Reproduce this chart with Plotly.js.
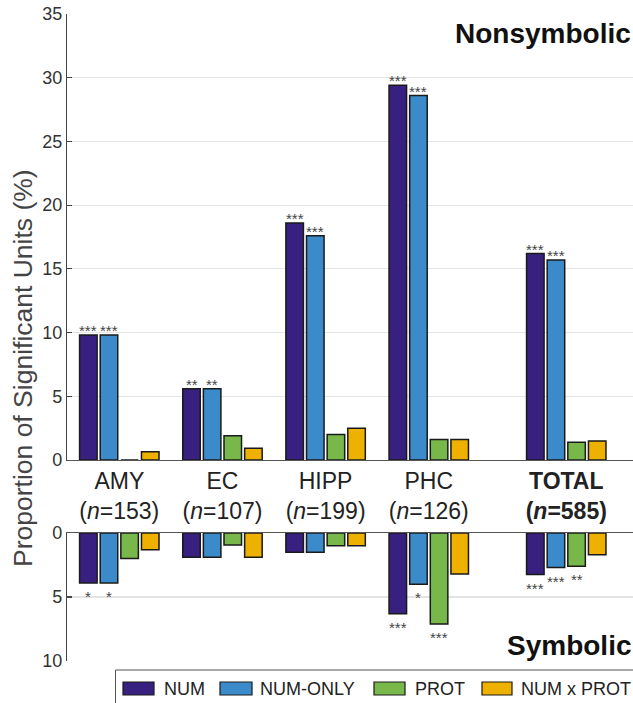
<!DOCTYPE html>
<html>
<head>
<meta charset="utf-8">
<script src="https://cdn.plot.ly/plotly-3.0.1.min.js"></script>
<style>
html,body{margin:0;padding:0;overflow:hidden;background:#fff;}
#chart{width:633px;height:703px;}
</style>
</head>
<body>
<div id="chart"></div>
<script>
// ---------------- DATA ----------------
const categories = ['AMY', 'EC', 'HIPP', 'PHC', 'TOTAL'];
const nUnits = [153, 107, 199, 126, 585];
const seriesNames = ['NUM', 'NUM-ONLY', 'PROT', 'NUM x PROT'];

// Nonsymbolic (%)
const nonsymNUM     = [9.8, 5.6, 18.6, 29.4, 16.2];
const nonsymNUMONLY = [9.8, 5.6, 17.6, 28.6, 15.7];
const nonsymPROT    = [0.0, 1.9, 2.0, 1.6, 1.4];
const nonsymNUMxPROT= [0.65, 0.93, 2.5, 1.6, 1.5];

// Symbolic (%)
const symNUM     = [3.9, 1.9, 1.5, 6.3, 3.25];
const symNUMONLY = [3.9, 1.9, 1.5, 4.0, 2.7];
const symPROT    = [2.0, 0.93, 1.0, 7.1, 2.6];
const symNUMxPROT= [1.3, 1.9, 1.0, 3.2, 1.7];

// Significance markers
const nonsymSigNUM      = ['***', '**', '***', '***', '***'];
const nonsymSigNUMONLY  = ['***', '**', '***', '***', '***'];
const nonsymSigPROT     = ['', '', '', '', ''];
const nonsymSigNUMxPROT = ['', '', '', '', ''];
const symSigNUM      = ['*', '', '', '***', '***'];
const symSigNUMONLY  = ['*', '', '', '*', '***'];
const symSigPROT     = ['', '', '', '***', '**'];
const symSigNUMxPROT = ['', '', '', '', ''];

// ---------------- LAYOUT / STYLE ----------------
const W = 633, H = 703, ML = 67;
const groupX = [1, 2, 3, 4, 5.333];
const colors = ['#37207f', '#3b8bca', '#78b84a', '#efb100'];
const FONT = 'Liberation Sans, Arial, sans-serif';
const BARGAP = 0.2;

const px2x = px => (px - ML) / (W - ML);
const px2y = py => 1 - py / H;

const tickText = categories.map((c, i) => c === 'TOTAL'
  ? `<b>${c}</b><br><b>(<i>n</i>=${nUnits[i]})</b>`
  : `${c}<br>(<i>n</i>=${nUnits[i]})`);

const nonsym = [nonsymNUM, nonsymNUMONLY, nonsymPROT, nonsymNUMxPROT];
const nonsymSig = [nonsymSigNUM, nonsymSigNUMONLY, nonsymSigPROT, nonsymSigNUMxPROT];
const sym = [symNUM, symNUMONLY, symPROT, symNUMxPROT];
const symSig = [symSigNUM, symSigNUMONLY, symSigPROT, symSigNUMxPROT];

const traces = [];
const barCommon = {type: 'bar', showlegend: false, hoverinfo: 'skip'};
seriesNames.forEach((name, k) => {
  traces.push(Object.assign({}, barCommon, {
    name: name, x: groupX, y: nonsym[k], xaxis: 'x', yaxis: 'y',
    marker: {color: colors[k], line: {color: '#1a1a1a', width: 1.5}}
  }));
});
seriesNames.forEach((name, k) => {
  traces.push(Object.assign({}, barCommon, {
    name: name, x: groupX, y: sym[k], xaxis: 'x2', yaxis: 'y2',
    marker: {color: colors[k], line: {color: '#1a1a1a', width: 1.5}}
  }));
});

const xRange = [0.493, 5.98];
const yCommon = {
  showgrid: true, gridcolor: '#e4e4e4', gridwidth: 1.2,
  showline: true, linecolor: '#444', linewidth: 1.2,
  ticks: 'inside', ticklen: 5, tickcolor: '#444', tickwidth: 1.2,
  tickfont: {family: FONT, size: 18, color: '#333'},
  zeroline: false, dtick: 5, fixedrange: true
};

const annotations = [];
// Significance stars, anchored to bar ends in data coordinates
const slot = (1 - BARGAP) / seriesNames.length;
seriesNames.forEach((name, k) => {
  const off = (k - (seriesNames.length - 1) / 2) * slot;
  groupX.forEach((gx, i) => {
    if (nonsymSig[k][i]) annotations.push({
      xref: 'x', yref: 'y', x: gx + off, y: nonsym[k][i], yshift: 4.5,
      xanchor: 'center', yanchor: 'middle', showarrow: false,
      text: nonsymSig[k][i], font: {family: FONT, size: 15, color: '#444'}
    });
    if (symSig[k][i]) annotations.push({
      xref: 'x2', yref: 'y2', x: gx + off, y: sym[k][i], yshift: -13.5,
      xanchor: 'center', yanchor: 'middle', showarrow: false,
      text: symSig[k][i], font: {family: FONT, size: 15, color: '#444'}
    });
  });
});

// Custom legend
const legendX = [[123, 154, 162], [220, 252, 258], [374, 405, 413], [482, 512, 519]];
const shapes = [{
  type: 'rect', xref: 'paper', yref: 'paper',
  x0: px2x(115.5), x1: px2x(700), y0: px2y(760), y1: px2y(670),
  line: {color: '#555', width: 1}, fillcolor: 'rgba(0,0,0,0)'
}];
seriesNames.forEach((name, k) => {
  shapes.push({
    type: 'rect', xref: 'paper', yref: 'paper',
    x0: px2x(legendX[k][0]), x1: px2x(legendX[k][1]),
    y0: px2y(695), y1: px2y(682),
    line: {color: '#1a1a1a', width: 1.2}, fillcolor: colors[k]
  });
  annotations.push({
    xref: 'paper', yref: 'paper', x: px2x(legendX[k][2]), y: px2y(689),
    xanchor: 'left', yanchor: 'middle', showarrow: false, text: name,
    font: {family: FONT, size: 18, color: '#222'}
  });
});
annotations.push({
  xref: 'paper', yref: 'paper', x: 1, xshift: 0, y: px2y(34),
  xanchor: 'right', yanchor: 'middle', showarrow: false,
  text: '<b>Nonsymbolic</b>', font: {family: FONT, size: 28, color: '#111'}
});
annotations.push({
  xref: 'paper', yref: 'paper', x: 1, xshift: 0, y: px2y(645),
  xanchor: 'right', yanchor: 'middle', showarrow: false,
  text: '<b>Symbolic</b>', font: {family: FONT, size: 28, color: '#111'}
});
annotations.push({
  xref: 'paper', yref: 'paper', x: px2x(23), y: px2y(368),
  xanchor: 'center', yanchor: 'middle', showarrow: false, textangle: -90,
  text: 'Proportion of Significant Units (%)',
  font: {family: FONT, size: 26.5, color: '#444'}
});

const layout = {
  width: W, height: H,
  margin: {l: ML, r: 0, t: 0, b: 0, pad: 0},
  paper_bgcolor: '#fff', plot_bgcolor: '#fff',
  barmode: 'group', bargap: BARGAP, bargroupgap: 0.15,
  font: {family: FONT},
  xaxis: {
    domain: [0, 1], anchor: 'y', range: xRange,
    tickvals: groupX, ticktext: tickText, ticks: '',
    tickfont: {family: FONT, size: 23, color: '#222'},
    showline: true, linecolor: '#555', linewidth: 1.2,
    showgrid: false, zeroline: false, fixedrange: true
  },
  yaxis: Object.assign({}, yCommon, {
    domain: [px2y(460), px2y(14)], range: [0, 35], anchor: 'x'
  }),
  xaxis2: {
    domain: [0, 1], anchor: 'y2', range: xRange, side: 'top',
    showticklabels: false, ticks: '',
    showline: true, linecolor: '#555', linewidth: 1.2,
    showgrid: false, zeroline: false, fixedrange: true
  },
  yaxis2: Object.assign({}, yCommon, {
    domain: [px2y(661), px2y(533)], range: [10, 0], anchor: 'x2'
  }),
  shapes: shapes,
  annotations: annotations
};

Plotly.newPlot('chart', traces, layout, {displayModeBar: false, staticPlot: true});
</script>
</body>
</html>
